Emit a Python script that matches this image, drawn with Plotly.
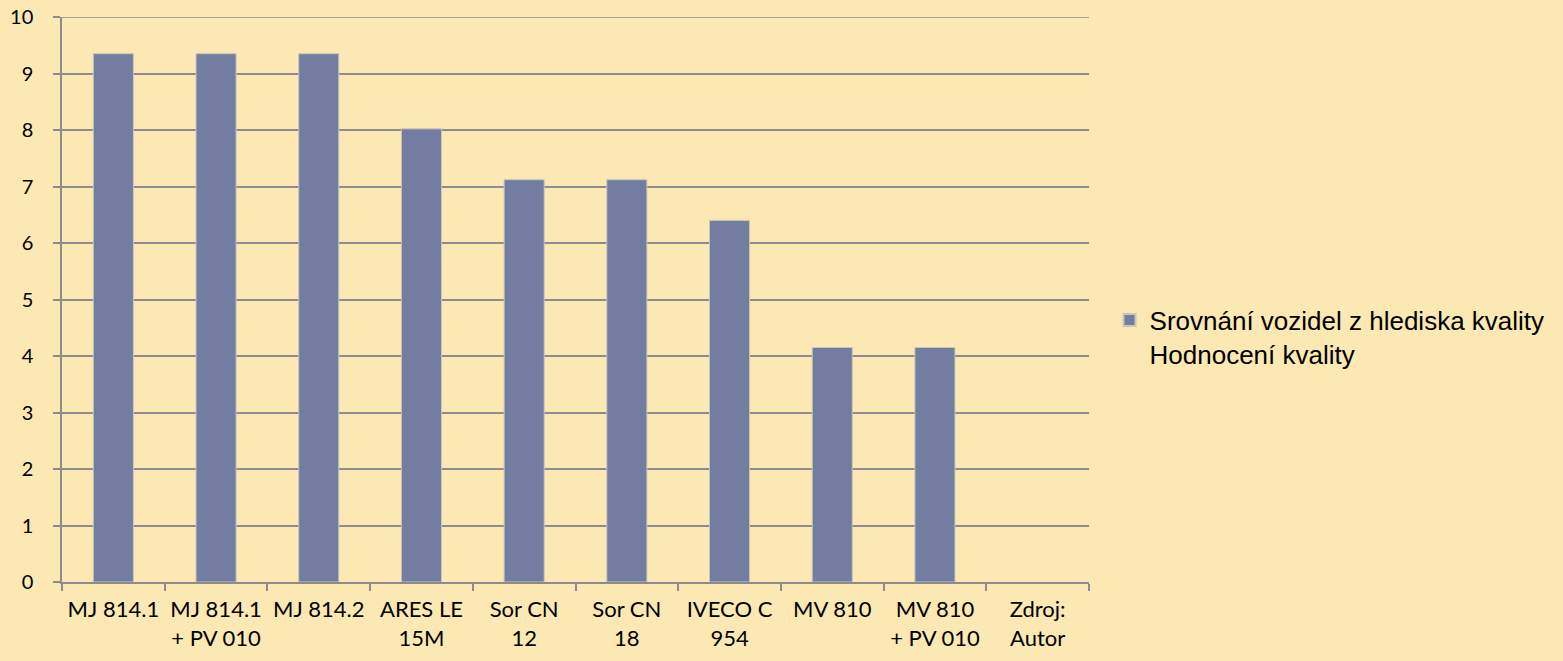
import plotly.graph_objects as go

categories = ["MJ 814.1", "MJ 814.1<br>+ PV 010", "MJ 814.2", "ARES LE<br>15M", "Sor CN<br>12",
              "Sor CN<br>18", "IVECO C<br>954", "MV 810", "MV 810<br>+ PV 010", "Zdroj:<br>Autor"]
values = [9.35, 9.35, 9.35, 8.02, 7.12, 7.12, 6.4, 4.15, 4.15, None]
series_name = "Srovnání vozidel z hlediska kvality<br>Hodnocení kvality"
y_ticks = list(range(0, 11))
y_max = 10

bg = "#FCE8B2"
grid = "#8C8C8C"

fig = go.Figure()
fig.add_trace(go.Bar(
    x=categories, y=values, name=series_name,
    marker=dict(color="#737CA1", line=dict(color="#C9C6B8", width=1)),
    width=0.39, showlegend=True,
))

fig.update_layout(
    width=1563, height=661,
    paper_bgcolor=bg, plot_bgcolor=bg,
    margin=dict(l=62, r=474, t=17, b=79, autoexpand=False),
    font=dict(family="Lato, Open Sans, sans-serif", color="#000000", size=21),
    showlegend=True,
    legend=dict(x=1.02, y=0.505, xanchor="left", yanchor="top", valign="top",
                font=dict(family="Liberation Sans, Arial, sans-serif", size=26, color="#000"),
                bgcolor="rgba(0,0,0,0)", itemsizing="constant", tracegroupgap=0),
)
# top gridline at the axis maximum
fig.add_shape(type="line", xref="paper", x0=0, x1=1, yref="y", y0=y_max, y1=y_max,
              line=dict(color=grid, width=1.5), layer="below")
fig.update_xaxes(
    type="category", showline=True, linecolor=grid, linewidth=1.5,
    ticks="outside", tickson="boundaries", ticklen=7, tickcolor=grid, tickwidth=1.5,
    tickfont=dict(size=22, family="Lato, Open Sans, sans-serif"),
    showgrid=False, range=[-0.5, 9.5], ticklabelstandoff=7, automargin=False,
)
fig.update_yaxes(
    range=[0, y_max], tickvals=y_ticks, showline=True, linecolor=grid, linewidth=1.5,
    ticks="outside", ticklen=7, tickcolor=grid, tickwidth=1.5,
    showgrid=True, gridcolor=grid, gridwidth=1.5, zeroline=False,
    tickfont=dict(size=20, family="Lato, Open Sans, sans-serif"),
    ticklabelstandoff=16, automargin=False,
)

fig.write_html("out.html", config={"displayModeBar": False},
               post_script="document.body.style.margin='0';")
